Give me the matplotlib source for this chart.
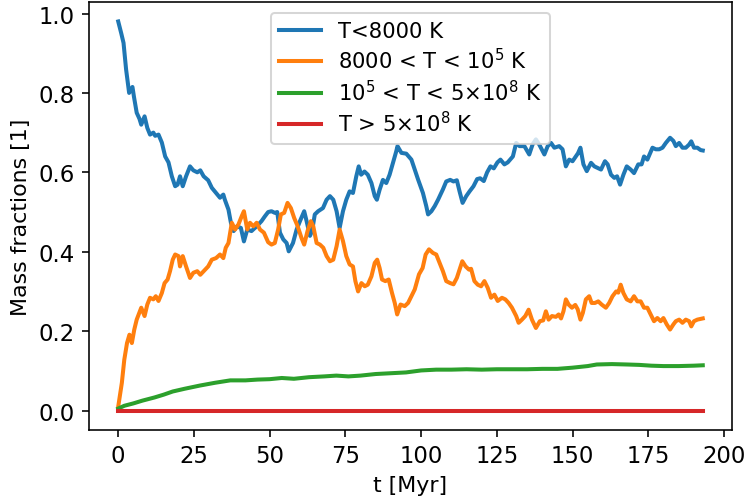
import matplotlib
matplotlib.use("Agg")
import matplotlib.pyplot as plt

# ---- data ----
t_cold = [0.0, 1.0, 1.75, 2.6, 3.6, 4.7, 5.2, 6.1, 7.0, 7.6, 8.7, 9.6, 10.5, 11.6, 12.2, 13.3,
          14.4, 15.5, 16.6, 17.7, 18.8, 19.6, 20.4, 21.3, 22.4, 23.7, 24.8, 26.1, 27.1, 28.2,
          29.7, 30.9, 32.3, 33.6, 34.7, 35.2, 36.4, 37.2, 38.1, 39.2, 40.5, 41.5, 42.6, 44.0,
          45.7, 47.3, 48.4, 49.5, 50.6, 51.7, 52.5, 53.4, 54.5, 55.6, 56.3, 57.7, 58.9, 60.0,
          61.4, 62.2, 63.3, 64.0, 64.9, 66.0, 67.6, 68.8, 69.9, 71.0, 72.1, 73.1, 74.2, 75.3,
          76.4, 77.5, 78.6, 79.4, 80.2, 81.3, 82.4, 83.6, 84.7, 85.4, 86.3, 87.4, 88.5, 89.6,
          90.7, 91.8, 92.2, 93.5, 95.1, 96.8, 97.9, 99.0, 100.6, 101.7, 102.3, 103.4, 104.5,
          105.6, 107.2, 108.3, 109.6, 110.7, 111.8, 112.7, 113.7, 114.9, 116.0, 117.3, 118.5,
          119.5, 120.7, 121.8, 122.9, 124.0, 125.2, 126.2, 127.5, 128.6, 130.3, 131.4, 132.5,
          134.1, 135.7, 136.8, 137.9, 139.0, 140.7, 141.8, 142.9, 144.0, 145.6, 146.7, 147.8,
          148.9, 150.0, 151.1, 151.8, 152.6, 153.6, 154.7, 156.1, 157.2, 158.3, 159.4, 160.7,
          161.6, 162.7, 163.8, 164.7, 165.7, 166.8, 167.9, 169.2, 170.3, 171.7, 172.8, 173.6,
          174.7, 176.4, 177.5, 178.6, 179.7, 180.8, 182.2, 183.3, 184.1, 185.2, 186.3, 187.4,
          188.5, 189.2, 190.1, 191.2, 192.3, 193.0]
f_cold = [0.98, 0.95, 0.926, 0.859, 0.80, 0.815, 0.79, 0.75, 0.735, 0.72, 0.741, 0.712, 0.695,
          0.70, 0.692, 0.695, 0.675, 0.64, 0.625, 0.59, 0.565, 0.569, 0.59, 0.565, 0.59, 0.615,
          0.605, 0.60, 0.605, 0.59, 0.58, 0.561, 0.548, 0.536, 0.544, 0.531, 0.506, 0.473, 0.452,
          0.464, 0.46, 0.426, 0.456, 0.452, 0.464, 0.477, 0.489, 0.50, 0.502, 0.498, 0.50, 0.448,
          0.431, 0.422, 0.401, 0.422, 0.456, 0.477, 0.502, 0.477, 0.44, 0.452, 0.494, 0.502,
          0.51, 0.531, 0.54, 0.531, 0.502, 0.46, 0.502, 0.531, 0.552, 0.548, 0.59, 0.615, 0.594,
          0.602, 0.594, 0.573, 0.54, 0.531, 0.556, 0.581, 0.573, 0.594, 0.624, 0.653, 0.666,
          0.649, 0.647, 0.632, 0.607, 0.582, 0.548, 0.515, 0.494, 0.502, 0.515, 0.531, 0.557,
          0.577, 0.581, 0.577, 0.58, 0.552, 0.523, 0.54, 0.552, 0.565, 0.583, 0.585, 0.578, 0.60,
          0.615, 0.61, 0.625, 0.632, 0.62, 0.625, 0.64, 0.674, 0.666, 0.666, 0.645, 0.67, 0.683,
          0.67, 0.645, 0.666, 0.674, 0.662, 0.666, 0.658, 0.615, 0.632, 0.628, 0.64, 0.648,
          0.662, 0.62, 0.603, 0.624, 0.615, 0.611, 0.607, 0.628, 0.62, 0.594, 0.586, 0.59, 0.569,
          0.594, 0.615, 0.607, 0.598, 0.62, 0.62, 0.64, 0.632, 0.662, 0.658, 0.658, 0.662, 0.674,
          0.687, 0.679, 0.666, 0.674, 0.662, 0.662, 0.67, 0.678, 0.662, 0.662, 0.656, 0.655]

t_warm = [0.0, 1.2, 2.0, 2.9, 3.7, 4.5, 5.3, 6.1, 7.6, 8.7, 9.6, 10.5, 11.6, 12.4, 13.3, 14.4,
          15.3, 16.3, 17.1, 18.0, 18.8, 19.9, 20.4, 21.3, 22.4, 23.7, 24.8, 26.1, 27.1, 28.2,
          29.7, 30.9, 32.3, 33.6, 34.7, 35.5, 36.4, 37.5, 38.6, 39.7, 40.8, 41.5, 42.6, 43.5,
          44.6, 45.7, 46.8, 48.1, 49.5, 50.6, 51.7, 52.8, 53.7, 54.8, 55.9, 57.0, 58.1, 59.2,
          60.5, 61.4, 62.5, 63.6, 64.4, 65.5, 66.6, 67.7, 68.8, 69.9, 71.0, 72.1, 73.1, 74.2,
          75.3, 76.4, 77.5, 78.3, 79.2, 80.3, 81.4, 82.4, 83.6, 84.7, 85.5, 86.3, 87.1, 88.2,
          89.3, 90.4, 91.3, 92.1, 93.2, 94.6, 95.7, 96.8, 97.9, 99.3, 100.5, 101.5, 102.6, 103.9,
          105.0, 106.1, 107.2, 108.3, 109.6, 110.7, 111.8, 112.7, 113.6, 114.7, 115.8, 116.5,
          117.6, 118.7, 119.8, 120.9, 122.0, 123.1, 124.2, 125.3, 126.7, 127.8, 128.9, 130.0,
          131.4, 132.2, 133.3, 134.4, 135.5, 136.6, 137.9, 139.2, 140.3, 141.2, 142.1, 143.2,
          144.5, 145.4, 146.2, 147.0, 147.8, 148.7, 149.8, 150.9, 151.7, 152.6, 153.4, 154.4,
          155.5, 156.3, 157.4, 158.5, 159.6, 161.0, 162.1, 163.2, 164.4, 165.1, 165.9, 166.8,
          167.9, 169.2, 170.3, 171.4, 172.5, 173.6, 174.7, 175.8, 176.9, 178.0, 179.1, 180.0,
          181.1, 182.2, 183.3, 184.1, 185.2, 186.3, 187.4, 188.5, 189.2, 190.1, 191.2, 192.3,
          193.0]
f_warm = [0.01, 0.07, 0.128, 0.17, 0.191, 0.17, 0.204, 0.229, 0.259, 0.238, 0.267, 0.284, 0.28,
          0.288, 0.276, 0.296, 0.321, 0.33, 0.351, 0.38, 0.393, 0.389, 0.363, 0.389, 0.363,
          0.334, 0.347, 0.351, 0.342, 0.351, 0.363, 0.38, 0.384, 0.393, 0.384, 0.41, 0.422,
          0.473, 0.456, 0.469, 0.49, 0.502, 0.456, 0.473, 0.464, 0.473, 0.456, 0.448, 0.424,
          0.418, 0.422, 0.456, 0.494, 0.498, 0.523, 0.51, 0.485, 0.465, 0.435, 0.418, 0.452,
          0.477, 0.464, 0.422, 0.418, 0.41, 0.389, 0.376, 0.38, 0.414, 0.456, 0.427, 0.389,
          0.368, 0.363, 0.326, 0.30, 0.321, 0.313, 0.317, 0.338, 0.372, 0.38, 0.359, 0.33, 0.326,
          0.33, 0.296, 0.271, 0.242, 0.267, 0.263, 0.271, 0.288, 0.305, 0.343, 0.359, 0.393,
          0.406, 0.397, 0.393, 0.372, 0.351, 0.326, 0.321, 0.318, 0.334, 0.355, 0.376, 0.363,
          0.355, 0.357, 0.326, 0.317, 0.313, 0.326, 0.309, 0.284, 0.292, 0.276, 0.284, 0.28,
          0.271, 0.259, 0.238, 0.221, 0.229, 0.238, 0.254, 0.229, 0.208, 0.225, 0.227, 0.25,
          0.229, 0.238, 0.236, 0.242, 0.232, 0.25, 0.28, 0.267, 0.259, 0.266, 0.255, 0.229,
          0.246, 0.28, 0.288, 0.271, 0.271, 0.275, 0.267, 0.259, 0.271, 0.288, 0.30, 0.297,
          0.317, 0.296, 0.28, 0.275, 0.288, 0.275, 0.275, 0.259, 0.259, 0.242, 0.225, 0.233,
          0.225, 0.233, 0.217, 0.204, 0.217, 0.225, 0.229, 0.221, 0.229, 0.225, 0.212, 0.225,
          0.229, 0.231, 0.232]

t_hot = [0, 2, 5, 8, 12, 15, 18, 22, 27, 32, 37, 42, 46, 50, 54, 58, 63, 68, 72, 76, 80, 85,
         90, 95, 100, 105, 110, 115, 120, 125, 130, 135, 140, 145, 150, 155, 158, 163, 168,
         172, 176, 180, 185, 190, 193]
f_hot = [0.005, 0.012, 0.018, 0.025, 0.033, 0.040, 0.048, 0.055, 0.063, 0.070, 0.076, 0.076,
         0.078, 0.079, 0.082, 0.080, 0.084, 0.086, 0.088, 0.086, 0.088, 0.092, 0.094, 0.096,
         0.101, 0.103, 0.103, 0.104, 0.103, 0.104, 0.104, 0.104, 0.105, 0.105, 0.108, 0.112,
         0.116, 0.117, 0.116, 0.115, 0.113, 0.112, 0.112, 0.113, 0.114]

t_vhot = [0, 193]
f_vhot = [0.0, 0.0]

labels = ["T<8000 K",
          r"8000 < T < $10^5$ K",
          r"$10^5$ < T < 5$\times10^8$ K",
          r"T > 5$\times10^8$ K"]
colors = ["#1f77b4", "#ff7f0e", "#2ca02c", "#d62728"]

DPI = 145
fig = plt.figure(figsize=(745 / DPI, 500 / DPI), dpi=DPI)
ax = fig.add_axes([89 / 745, 1 - 431 / 500, (732 - 89) / 745, (431 - 3) / 500])

series = [(t_cold, f_cold), (t_warm, f_warm), (t_hot, f_hot), (t_vhot, f_vhot)]
for (t, f), lab, c in zip(series, labels, colors):
    ax.plot(t, f, color=c, lw=2.0, label=lab)

ax.set_xlabel("t [Myr]", fontsize=11)
ax.set_ylabel("Mass fractions [1]", fontsize=11)
ax.set_xticks([0, 25, 50, 75, 100, 125, 150, 175, 200])
ax.set_yticks([0.0, 0.2, 0.4, 0.6, 0.8, 1.0])
ax.tick_params(labelsize=11.3)
ax.legend(loc="upper center", fontsize=10.5, labelspacing=0.3)

fig.savefig("out.png", dpi=DPI)
